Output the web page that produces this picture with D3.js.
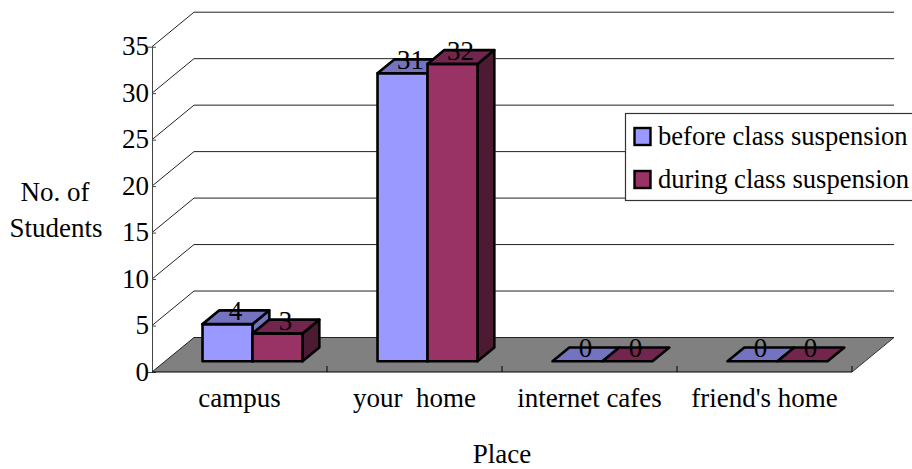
<!DOCTYPE html>
<html>
<head>
<meta charset="utf-8">
<script src="https://cdn.jsdelivr.net/npm/d3@7"></script>
<style>
  html, body { margin: 0; padding: 0; background: #fff; overflow: hidden; }
  text { font-family: "Liberation Serif", serif; fill: #000; }
</style>
</head>
<body>
<svg id="chart" width="912" height="469"></svg>
<script>
// Where students spent their time, before and during the class suspension
const places = ["campus", "your  home", "internet cafes", "friend's home"];
const seriesNames = ["before class suspension", "during class suspension"];
const beforeValues = [4, 31, 0, 0];
const duringValues = [3, 32, 0, 0];
const yTicks = [0, 5, 10, 15, 20, 25, 30, 35];

const frontColors = ["#9999ff", "#993366"];
const topColors = ["#7373bf", "#73264d"];
const sideColors = ["#7373bf", "#4d1a33"];

const svg = d3.select("#chart");

// Oblique projection: depth runs from the front plane (0) to the back wall (1)
const wallDx = 42, wallDy = -34.5;
const x = d3.scaleBand().domain(places).range([152, 852]);
const y = d3.scaleLinear().domain([0, 35]).range([372, 46.7]);
const project = (px, py, d) => [px + wallDx * d, py + wallDy * d];
const path = pts => "M" + pts.map(p => p.join(",")).join("L") + "Z";

const x0 = x.range()[0], x1 = x.range()[1];

// Floor
svg.append("path")
  .attr("d", path([project(x0, y(0), 0), project(x1, y(0), 0), project(x1, y(0), 1), project(x0, y(0), 1)]))
  .attr("fill", "#808080");
svg.append("path")
  .attr("d", d3.line()([project(x1, y(0), 0), project(x1, y(0), 1)]))
  .attr("stroke", "#333").attr("fill", "none");

// Gridlines on the back wall and their diagonals on the side wall
const grid = svg.append("g").attr("fill", "none").attr("stroke", "#222").attr("stroke-width", 1);
yTicks.forEach(t => {
  const a = project(x0, y(t), 0), b = project(x0, y(t), 1), c = project(x1, y(t), 1);
  grid.append("path").attr("d", d3.line()([a, b, c]));
});

// Value axis
const yAxis = d3.axisLeft(y).tickValues(yTicks).tickSize(4).tickPadding(0);
const yG = svg.append("g").attr("transform", `translate(${x0},0)`).call(yAxis);
yG.select(".domain").attr("stroke", "#444");
yG.selectAll("line").attr("stroke", "#444").attr("x2", 4);
yG.selectAll("text").attr("font-size", 27).attr("x", -3).attr("dy", "0.3em").style("font-family", '"Liberation Serif", serif');

// Category axis
const xAxis = d3.axisBottom(x).tickSize(0).tickPadding(0);
const xG = svg.append("g").attr("transform", `translate(0,${y(0)})`).call(xAxis);
xG.select(".domain").attr("stroke", "#000").attr("d", `M${x0},0H${x1}`);
xG.selectAll("text").attr("font-size", 27).attr("y", 35).attr("dy", 0).style("white-space", "pre").style("font-family", '"Liberation Serif", serif');
xG.selectAll("line").remove();
places.forEach((p, i) => {
  const tx = x0 + x.step() * (i + 1);
  xG.append("line").attr("x1", tx).attr("x2", tx).attr("y1", 0).attr("y2", -6).attr("stroke", "#000");
});

// 3D bars: two side by side in each category, sitting mid-depth on the floor
const frontDepth = 0.31, backDepth = 0.71, barWidth = 50;
const series = [beforeValues, duringValues];

const bars = svg.append("g").attr("stroke", "#000").attr("stroke-width", 2.6).attr("stroke-linejoin", "round");
const labels = [];
places.forEach((place, i) => {
  const centre = x(place) + x.bandwidth() / 2;
  series.forEach((vals, s) => {
    const left = centre + (s - 1) * barWidth, right = left + barWidth;
    const v = vals[i];
    const fl = project(left, y(v), frontDepth), fr = project(right, y(v), frontDepth);
    const bl = project(left, y(v), backDepth), br = project(right, y(v), backDepth);
    const fr0 = project(right, y(0), frontDepth), br0 = project(right, y(0), backDepth);
    const fl0 = project(left, y(0), frontDepth);

    if (v > 0) {
      bars.append("path").attr("d", path([fr, br, br0, fr0])).attr("fill", sideColors[s]);
      bars.append("path").attr("d", path([fl, fr, fr0, fl0])).attr("fill", frontColors[s]);
    }
    bars.append("path").attr("d", path([fl, fr, br, bl])).attr("fill", topColors[s]);
    labels.push({ v, cx: (fl[0] + br[0]) / 2, cy: (fl[1] + br[1]) / 2 });
  });
});

// Value labels sit on the top faces
svg.append("g").selectAll("text").data(labels).join("text")
  .attr("x", d => d.cx - 0.5).attr("y", d => d.cy + 3)
  .attr("text-anchor", "middle").attr("font-size", 27)
  .text(d => d.v);

// Axis titles
svg.append("text").attr("x", 55).attr("y", 200.5).attr("text-anchor", "middle").attr("font-size", 27).text("No. of");
svg.append("text").attr("x", 56).attr("y", 236.5).attr("text-anchor", "middle").attr("font-size", 27).text("Students");
svg.append("text").attr("x", 502).attr("y", 463).attr("text-anchor", "middle").attr("font-size", 27).text("Place");

// Legend
const legend = svg.append("g");
legend.append("rect").attr("x", 625.5).attr("y", 113.5).attr("width", 300).attr("height", 87)
  .attr("fill", "#fff").attr("stroke", "#333").attr("stroke-width", 1.2);
seriesNames.forEach((name, s) => {
  const rowY = 128 + s * 43;
  legend.append("rect").attr("x", 634.5).attr("y", rowY).attr("width", 16).attr("height", 17)
    .attr("fill", frontColors[s]).attr("stroke", "#000").attr("stroke-width", 2.4);
  legend.append("text").attr("x", 658).attr("y", rowY + 17).attr("font-size", 26.6).text(name);
});
</script>
</body>
</html>
